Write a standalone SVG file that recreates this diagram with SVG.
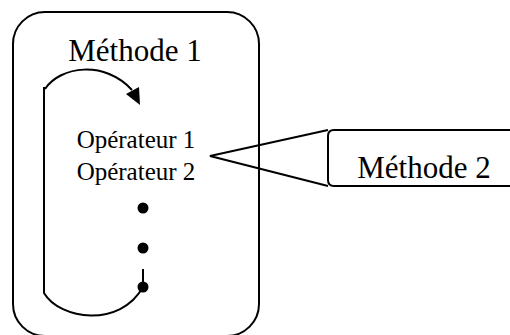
<svg xmlns="http://www.w3.org/2000/svg" width="510" height="335" viewBox="0 0 510 335">
<style>
.ln{fill:none;stroke:#000;stroke-width:2}
.t{font-family:"Liberation Serif","Times New Roman",serif;fill:#000;text-anchor:middle}
</style>
<rect width="510" height="335" fill="#fff"/>
<g id="methode1">
<rect class="ln" x="13" y="12" width="246" height="324" rx="32" ry="32"/>
<text class="t" x="135" y="61" font-size="31">Méthode 1</text>
</g>
<g id="operateurs">
<text class="t" x="136" y="148" font-size="25">Opérateur 1</text>
<text class="t" x="136" y="180" font-size="25">Opérateur 2</text>
<circle cx="143" cy="208" r="5.5" fill="#000"/>
<circle cx="143" cy="248" r="5.5" fill="#000"/>
<circle cx="143" cy="287" r="5.5" fill="#000"/>
</g>
<g id="methode2">
<path class="ln" d="M520,130 H334 Q328,130 328,136 V180 Q328,186 334,186 H520"/>
<text class="t" x="424" y="178" font-size="31">Méthode 2</text>
</g>
<g id="connectors">
<path class="ln" d="M45,89 C60,66 105,60 132,90"/>
<polygon points="140,105 126,94 139,87" fill="#000"/>
<path class="ln" d="M44,87 V293 C60,320 120,328 143,287"/>
<path class="ln" d="M143,269 V287"/>
<path class="ln" d="M328,130 L210,156 L328,186"/>
</g>
</svg>
